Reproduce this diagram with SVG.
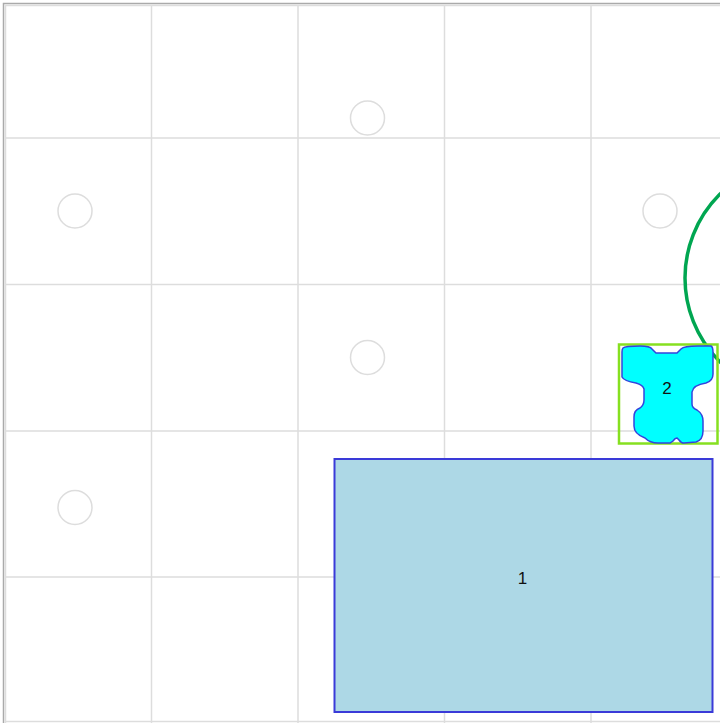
<svg xmlns="http://www.w3.org/2000/svg" width="720" height="723" viewBox="0 0 720 723">
<style>
.grid{stroke:#dddddd;stroke-width:1.5;fill:none}
.slot{fill:none;stroke:#dddddd;stroke-width:1.5}
.lbl{font-family:"Liberation Sans",Arial,sans-serif;font-size:17px;fill:#111;text-anchor:middle;dominant-baseline:central}
</style>
<rect x="0" y="0" width="720" height="723" fill="#ffffff"/>
<g id="grid">
<line class="grid" x1="5.5" y1="5" x2="5.5" y2="723"/>
<line class="grid" x1="151.5" y1="5" x2="151.5" y2="723"/>
<line class="grid" x1="298" y1="5" x2="298" y2="723"/>
<line class="grid" x1="444.5" y1="5" x2="444.5" y2="723"/>
<line class="grid" x1="591" y1="5" x2="591" y2="723"/>
<line class="grid" x1="5" y1="5.5" x2="720" y2="5.5"/>
<line class="grid" x1="5" y1="138" x2="720" y2="138"/>
<line class="grid" x1="5" y1="284.5" x2="720" y2="284.5"/>
<line class="grid" x1="5" y1="431" x2="720" y2="431"/>
<line class="grid" x1="5" y1="577" x2="720" y2="577"/>
<line class="grid" x1="5" y1="721.5" x2="720" y2="721.5"/>
<path d="M3.5 723 V3.5 H720" fill="none" stroke="#aaaaaa" stroke-width="1.5"/>
</g>
<g id="slots">
<circle class="slot" cx="367.5" cy="118" r="17"/>
<circle class="slot" cx="75" cy="211" r="17"/>
<circle class="slot" cx="660" cy="211" r="17"/>
<circle class="slot" cx="367.5" cy="357.5" r="17"/>
<circle class="slot" cx="75" cy="507.5" r="17"/>
</g>
<g id="big-circle">
<circle cx="803" cy="278" r="118" fill="none" stroke="#00a651" stroke-width="3.5"/>
</g>
<g id="node1">
<rect x="334.5" y="459" width="378" height="253" fill="#add8e6" stroke="#3a3ad8" stroke-width="2"/>
<text class="lbl" x="522.5" y="578">1</text>
</g>
<g id="node2">
<rect x="619" y="344.5" width="98.5" height="99" fill="none" stroke="#86e020" stroke-width="2.5"/>
<path d="M623 348 Q625 346 640 346 Q650 346 652 349 L656 353 L677 353 L681 349 Q684 346 698 346 L711 346 Q713 347 713 352 L713 374 Q713 381 706 383 Q693 385 692 392 L692 404 Q692 408 697 410 Q703 414 703 421 L703 431 Q703 440 696 442 L684 443 Q681 443 679 440 L677 438 Q675 438 673 441 L670 443 L658 443 Q650 443 645 438 Q634 434 634 426 L634 417 Q634 410 640 408 Q644 405 644 400 L644 389 Q643 385 636 383 Q624 381 622 377 L622 352 Q622 349 623 348 Z" fill="#00ffff" stroke="#3344dd" stroke-width="1.5"/>
<text class="lbl" x="667" y="388">2</text>
</g>
</svg>
